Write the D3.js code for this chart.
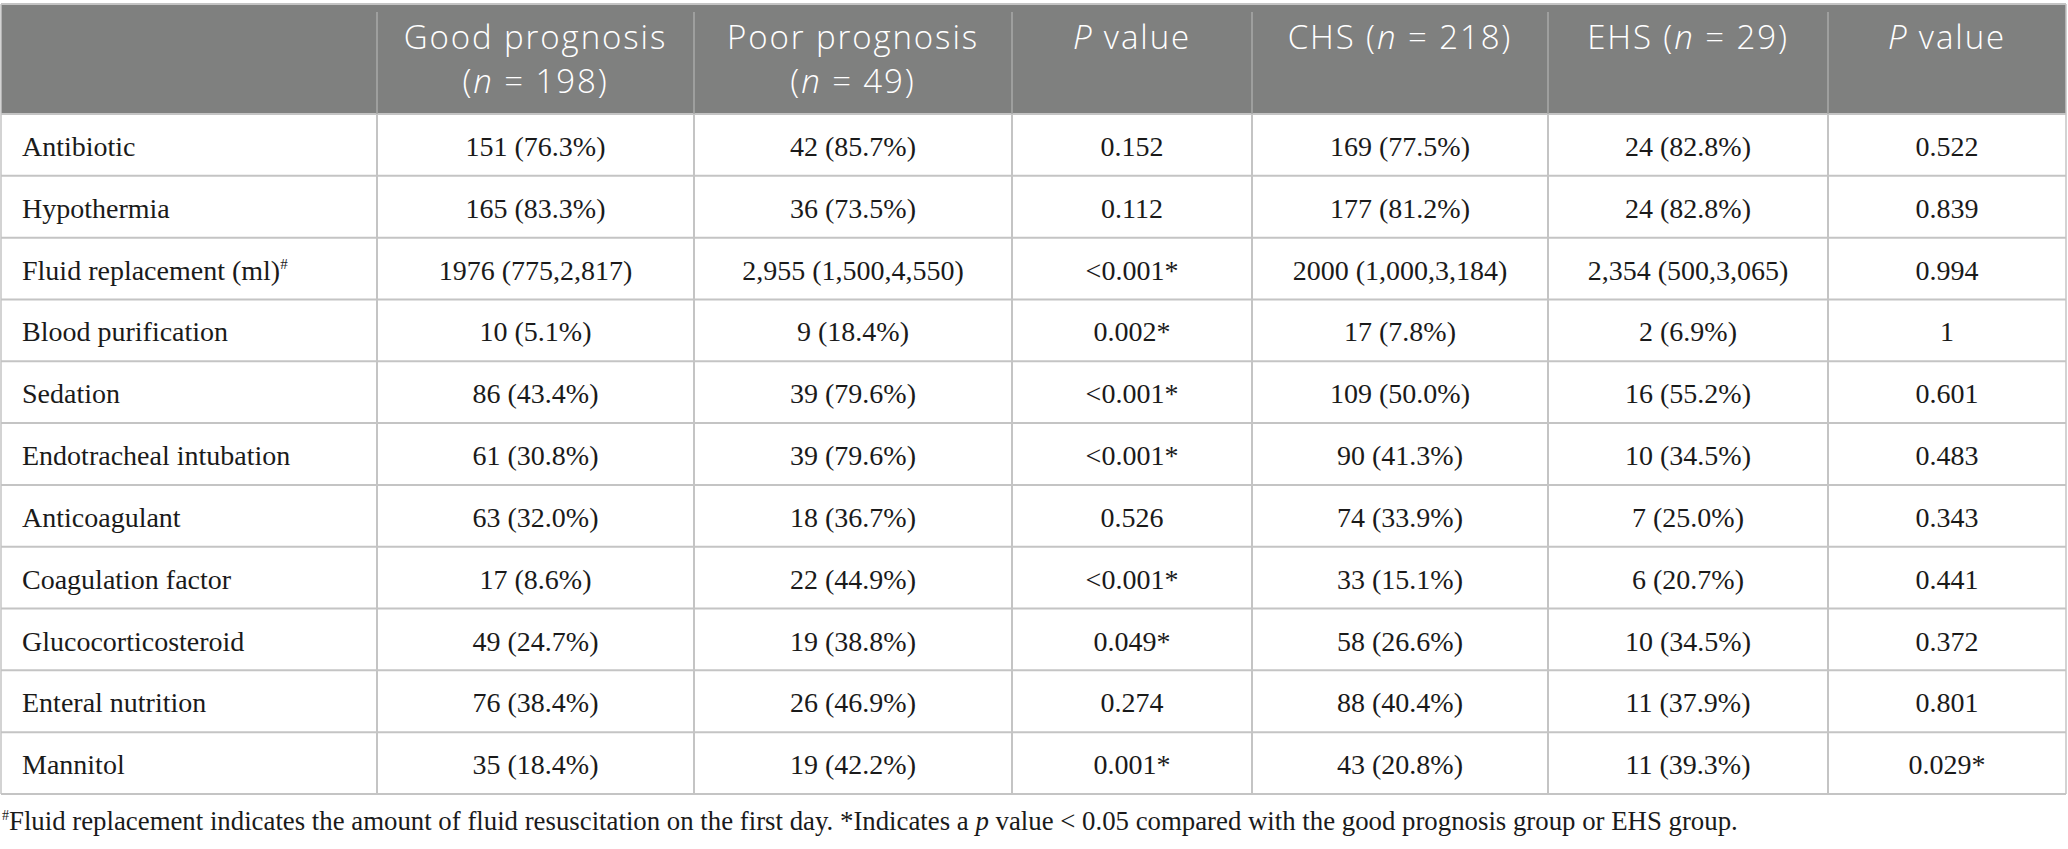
<!DOCTYPE html>
<html>
<head>
<meta charset="utf-8">
<title>Treatment table</title>
<style>
  body { margin: 0; background: #fff; }
  .head text { font-family: "Open Sans", sans-serif; font-weight: 300; font-size: 33px; letter-spacing: 1.9px; fill: #fff; text-anchor: middle; }
  .cell text { font-family: "Liberation Serif", "Times New Roman", serif; font-size: 28px; fill: #1a1a1a; }
  .note { font-family: "Liberation Serif", "Times New Roman", serif; font-size: 26.8px; fill: #1a1a1a; }
</style>
</head>
<body>
<svg id="tbl" width="2068" height="849"></svg>
<script src="https://d3js.org/d3.v7.min.js"></script>
<script>
// table content
var rowLabels = ["Antibiotic", "Hypothermia", "Fluid replacement (ml)", "Blood purification", "Sedation",
  "Endotracheal intubation", "Anticoagulant", "Coagulation factor", "Glucocorticosteroid",
  "Enteral nutrition", "Mannitol"];
var goodPrognosis = ["151 (76.3%)", "165 (83.3%)", "1976 (775,2,817)", "10 (5.1%)", "86 (43.4%)",
  "61 (30.8%)", "63 (32.0%)", "17 (8.6%)", "49 (24.7%)", "76 (38.4%)", "35 (18.4%)"];
var poorPrognosis = ["42 (85.7%)", "36 (73.5%)", "2,955 (1,500,4,550)", "9 (18.4%)", "39 (79.6%)",
  "39 (79.6%)", "18 (36.7%)", "22 (44.9%)", "19 (38.8%)", "26 (46.9%)", "19 (42.2%)"];
var pPrognosis = ["0.152", "0.112", "<0.001*", "0.002*", "<0.001*", "<0.001*", "0.526",
  "<0.001*", "0.049*", "0.274", "0.001*"];
var chsGroup = ["169 (77.5%)", "177 (81.2%)", "2000 (1,000,3,184)", "17 (7.8%)", "109 (50.0%)",
  "90 (41.3%)", "74 (33.9%)", "33 (15.1%)", "58 (26.6%)", "88 (40.4%)", "43 (20.8%)"];
var ehsGroup = ["24 (82.8%)", "24 (82.8%)", "2,354 (500,3,065)", "2 (6.9%)", "16 (55.2%)",
  "10 (34.5%)", "7 (25.0%)", "6 (20.7%)", "10 (34.5%)", "11 (37.9%)", "11 (39.3%)"];
var pHeatstroke = ["0.522", "0.839", "0.994", "1", "0.601", "0.483", "0.343", "0.441",
  "0.372", "0.801", "0.029*"];
// header lines: [text, italic?] pieces
var headers = [
  [],
  [[["Good prognosis", false]], [["(", false], ["n", true], [" = 198)", false]]],
  [[["Poor prognosis", false]], [["(", false], ["n", true], [" = 49)", false]]],
  [[["P", true], [" value", false]]],
  [[["CHS (", false], ["n", true], [" = 218)", false]]],
  [[["EHS (", false], ["n", true], [" = 29)", false]]],
  [[["P", true], [" value", false]]]
];
var footnote = "Fluid replacement indicates the amount of fluid resuscitation on the first day. *Indicates a ";
var footnoteEnd = " value < 0.05 compared with the good prognosis group or EHS group.";

var columns = [rowLabels, goodPrognosis, poorPrognosis, pPrognosis, chsGroup, ehsGroup, pHeatstroke];

// layout
var colEdges = [1, 377, 694, 1012, 1252, 1548, 1828, 2066];
var headTop = 4, headBottom = 114, tableBottom = 794;
var lineColor = "#c4c4c4";

var svg = d3.select("#tbl");

var y = d3.scaleBand().domain(d3.range(rowLabels.length)).range([headBottom, tableBottom]);
var x = d3.scaleOrdinal().domain(d3.range(columns.length)).range(colEdges.slice(0, -1));
function colW(i) { return colEdges[i + 1] - colEdges[i]; }

// header band
svg.append("rect").attr("x", colEdges[0]).attr("y", headTop)
  .attr("width", colEdges[colEdges.length - 1] - colEdges[0]).attr("height", headBottom - headTop)
  .attr("fill", "#7f807f");
svg.append("line").attr("x1", colEdges[0]).attr("x2", colEdges[colEdges.length - 1])
  .attr("y1", headTop).attr("y2", headTop).attr("stroke", lineColor).attr("stroke-width", 2);

var head = svg.append("g").attr("class", "head");
headers.forEach(function(lines, ci) {
  lines.forEach(function(parts, li) {
    var t = head.append("text")
      .attr("x", x(ci) + colW(ci) / 2)
      .attr("y", 49 + li * 44);
    parts.forEach(function(p) {
      t.append("tspan").style("font-style", p[1] ? "italic" : "normal").text(p[0]);
    });
  });
});

// horizontal row lines
svg.append("g").selectAll("line")
  .data(d3.range(rowLabels.length + 1))
  .join("line")
  .attr("x1", colEdges[0]).attr("x2", colEdges[colEdges.length - 1])
  .attr("y1", function(d) { return d < rowLabels.length ? y(d) : tableBottom; })
  .attr("y2", function(d) { return d < rowLabels.length ? y(d) : tableBottom; })
  .attr("stroke", lineColor).attr("stroke-width", 2);

// vertical column lines
svg.append("g").selectAll("line")
  .data(colEdges)
  .join("line")
  .attr("x1", function(d) { return d; }).attr("x2", function(d) { return d; })
  .attr("y1", function(d, i) { return (i === 0 || i === colEdges.length - 1) ? headTop : headTop + 8; })
  .attr("y2", tableBottom)
  .attr("stroke", function(d, i) { return (i === 0 || i === colEdges.length - 1) ? lineColor : "#a9aaa9"; })
  .attr("stroke-width", 1.5);
// redraw inner lines in body with light color
svg.append("g").selectAll("line")
  .data(colEdges.slice(1, -1))
  .join("line")
  .attr("x1", function(d) { return d; }).attr("x2", function(d) { return d; })
  .attr("y1", headBottom).attr("y2", tableBottom)
  .attr("stroke", lineColor).attr("stroke-width", 2);

// cells
var body = svg.append("g").attr("class", "cell");
columns.forEach(function(col, ci) {
  body.selectAll(null)
    .data(col)
    .join("text")
    .attr("x", ci === 0 ? x(ci) + 21 : x(ci) + colW(ci) / 2)
    .attr("y", function(d, ri) { return y(ri) + 42; })
    .attr("text-anchor", ci === 0 ? "start" : "middle")
    .each(function(d, ri) {
      var t = d3.select(this);
      t.append("tspan").text(d);
      if (ci === 0 && d === "Fluid replacement (ml)") {
        t.append("tspan").attr("dy", -11).attr("font-size", 15).text("#");
      }
    });
});

// footnote
var note = svg.append("text").attr("class", "note").attr("x", 2).attr("y", 830);
note.append("tspan").attr("font-size", 14).attr("dy", -10).text("#");
note.append("tspan").attr("dy", 10).text(footnote);
note.append("tspan").style("font-style", "italic").text("p");
note.append("tspan").text(footnoteEnd);
</script>
</body>
</html>
